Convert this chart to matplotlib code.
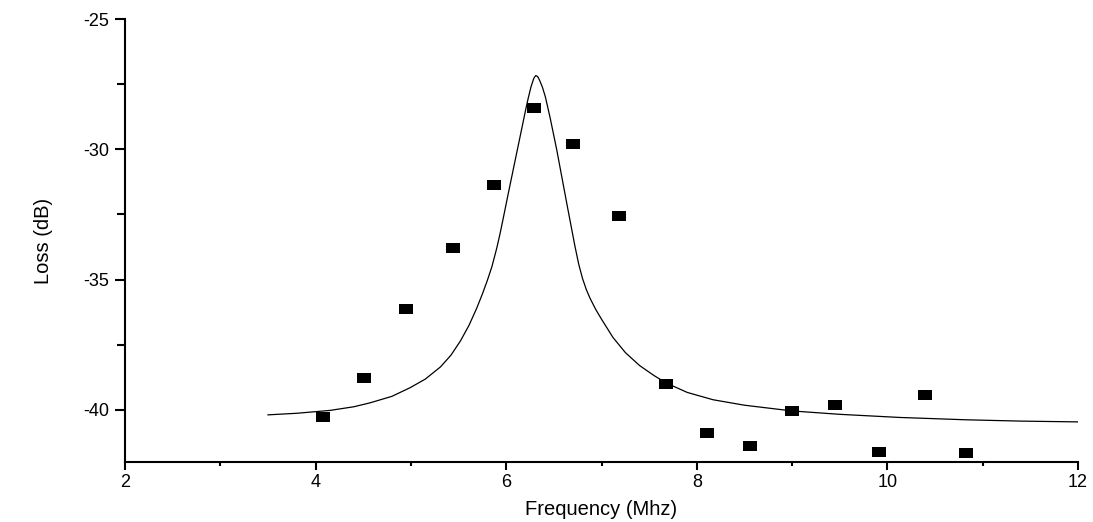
import numpy as np
import matplotlib
matplotlib.use("Agg")
import matplotlib.pyplot as plt
from matplotlib.ticker import MultipleLocator

plt.rcParams['font.family'] = ['Liberation Sans', 'DejaVu Sans']
plt.rcParams['axes.unicode_minus'] = False

# --- measured points (squares) ---
freq_meas = [4.08, 4.51, 4.95, 5.44, 5.87, 6.29, 6.70, 7.18, 7.68,
             8.11, 8.56, 9.00, 9.45, 9.91, 10.39, 10.82]
loss_meas = [-40.27, -38.77, -36.12, -33.78, -31.37, -28.41, -29.79, -32.56, -39.00,
             -40.88, -41.38, -40.04, -39.81, -41.61, -39.42, -41.65]

# --- fitted curve ---
freq_fit = [3.50, 3.80, 4.15, 4.40, 4.57, 4.80, 4.99, 5.15, 5.31, 5.42, 5.52,
            5.61, 5.69, 5.75, 5.80, 5.85, 5.90, 5.935, 5.97, 6.02, 6.075, 6.145,
            6.20, 6.23, 6.26, 6.29, 6.31, 6.33, 6.35, 6.38, 6.41, 6.46, 6.53,
            6.635, 6.72, 6.76, 6.80, 6.84, 6.88, 6.94, 7.00, 7.12, 7.25, 7.40, 7.55,
            7.68, 7.90, 8.17, 8.50, 9.00, 9.50, 10.13, 10.83, 11.40, 12.00]
loss_fit = [-40.19, -40.13, -40.02, -39.88, -39.73, -39.48, -39.15, -38.82, -38.35,
            -37.90, -37.35, -36.75, -36.10, -35.55, -35.05, -34.50, -33.80, -33.24,
            -32.62, -31.72, -30.75, -29.52, -28.55, -28.05, -27.60, -27.27, -27.17,
            -27.21, -27.35, -27.62, -27.98, -28.78, -30.02, -32.07, -33.70, -34.40,
            -34.95, -35.38, -35.72, -36.15, -36.52, -37.22, -37.80, -38.30, -38.68,
            -38.97, -39.33, -39.61, -39.82, -40.04, -40.17, -40.29, -40.38, -40.43,
            -40.46]

fig = plt.figure(figsize=(10.93, 5.22), dpi=100)
ax = fig.add_axes([0.1144, 0.1149, 0.8719, 0.8487])

ax.plot(freq_fit, loss_fit, color='black', lw=0.9, solid_joinstyle='round')

rect = [(-1.45, -1), (1.45, -1), (1.45, 1), (-1.45, 1), (-1.45, -1)]
ax.plot(freq_meas, loss_meas, ls='none', marker=rect, markersize=9.5,
        color='black', markeredgewidth=0)

ax.set_xlim(2, 12)
ax.set_ylim(-42, -25)
ax.xaxis.set_major_locator(MultipleLocator(2))
ax.xaxis.set_minor_locator(MultipleLocator(1))
ax.yaxis.set_major_locator(MultipleLocator(5))
ax.yaxis.set_minor_locator(MultipleLocator(2.5))

for side in ['top', 'right']:
    ax.spines[side].set_visible(False)
for side in ['left', 'bottom']:
    ax.spines[side].set_linewidth(1.5)

ax.tick_params(axis='x', which='major', length=5.8, width=1.5, labelsize=13, pad=3)
ax.tick_params(axis='x', which='minor', length=3.2, width=1.5)
ax.tick_params(axis='y', which='major', length=7.2, width=1.5, labelsize=13, pad=4)
ax.tick_params(axis='y', which='minor', length=5.5, width=1.5)

ax.set_xlabel('Frequency (Mhz)', fontsize=14.5, labelpad=6)
ax.set_ylabel('Loss (dB)', fontsize=14.5, labelpad=22)

fig.savefig('out.png', dpi=100)
